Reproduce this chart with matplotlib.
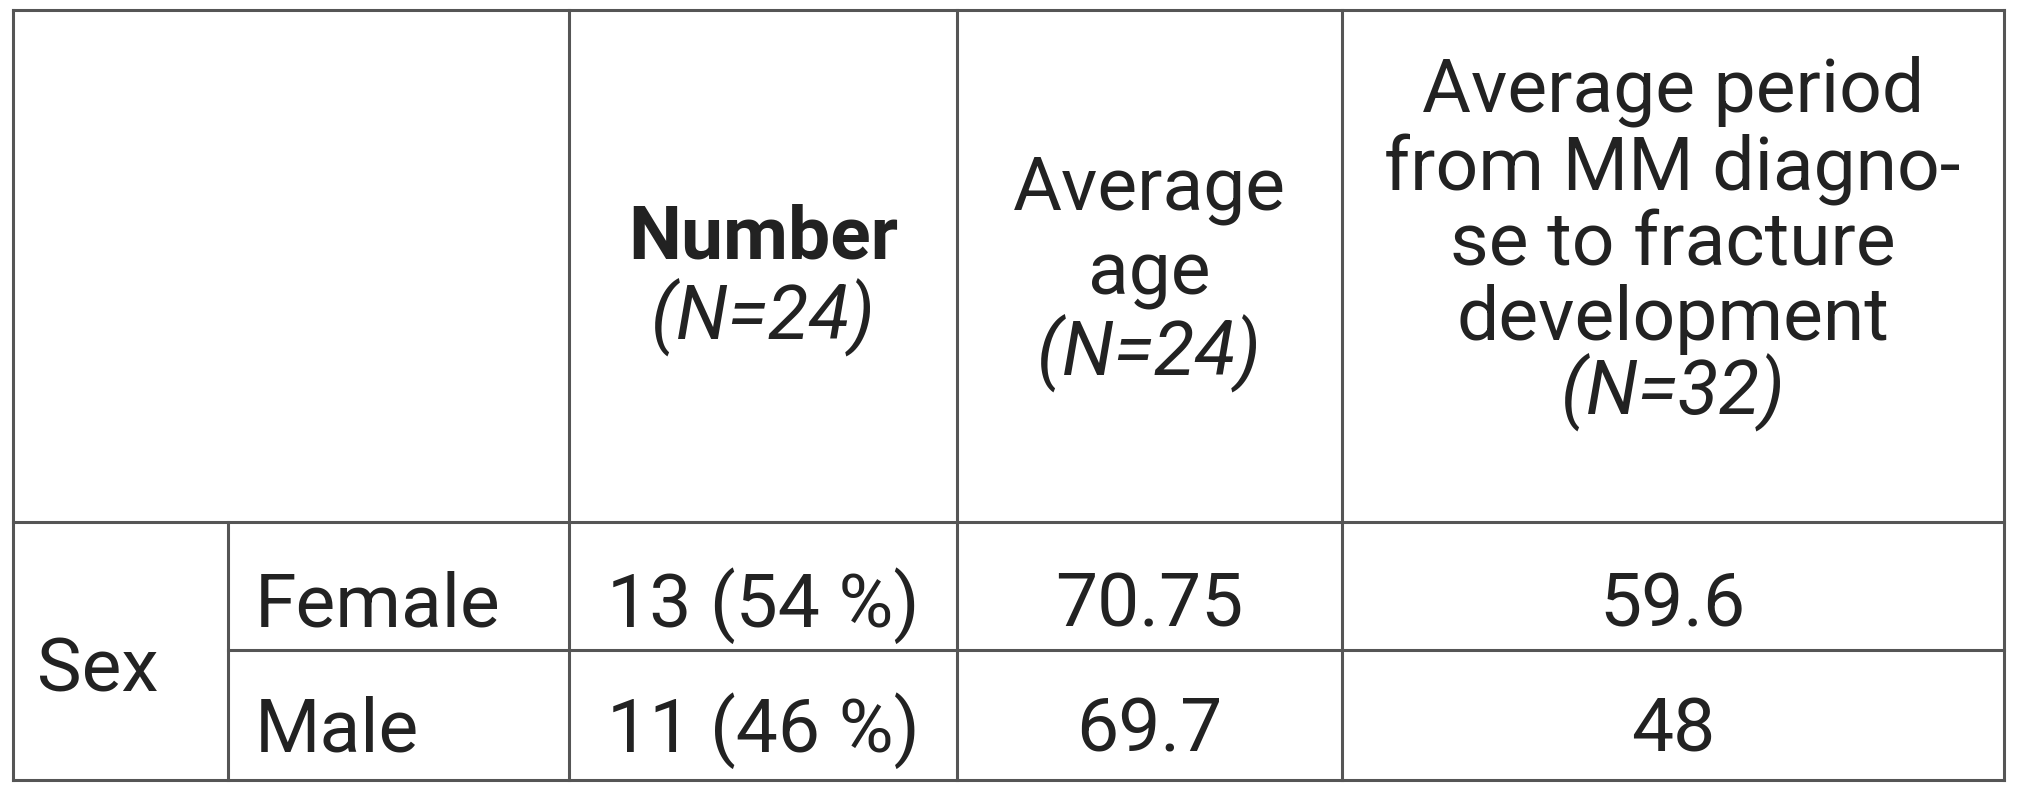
import matplotlib
matplotlib.use("Agg")
import matplotlib.pyplot as plt

header_bold = "Number"
header_n = ["(N=24)", "(N=24)", "(N=32)"]
header_age = ["Average", "age"]
header_period = ["Average period", "from MM diagno-", "se to fracture", "development"]
row_group = "Sex"
row_labels = ["Female", "Male"]
numbers = ["13 (54 %)", "11 (46 %)"]
avg_age = ["70.75", "69.7"]
avg_period = ["59.6", "48"]

W, H = 1546, 613
fig = plt.figure(figsize=(20.18, 8.0), dpi=100)
ax = fig.add_axes([0, 0, 1, 1])
ax.set_xlim(0, W); ax.set_ylim(H, 0); ax.axis("off")
plt.rcParams['font.family'] = ['Roboto', 'DejaVu Sans']
lc = "#555555"; tc = "#222222"; lw = 2.2; fs = 54

L, R, T, HB, RD, B = 10, 1535, 8, 400, 498, 598
cols = [175, 436, 733, 1028]
for y in [T, HB, RD, B]:
    x0 = L if y in (T, HB, B) else cols[0]
    ax.plot([x0, R], [y, y], color=lc, lw=lw)
ax.plot([L, L], [T, B], color=lc, lw=lw)
ax.plot([R, R], [T, B], color=lc, lw=lw)
ax.plot([cols[0], cols[0]], [HB, B], color=lc, lw=lw)
for c in cols[1:]:
    ax.plot([c, c], [T, B], color=lc, lw=lw)

def t(x, y, s, **kw):
    ax.text(x, y, s, ha="center", va="center", fontsize=fs, color=tc, **kw)

cx = (cols[1] + cols[2]) / 2
t(cx, 183, header_bold, weight="bold")
t(cx, 243, header_n[0], style="italic")
cx = (cols[2] + cols[3]) / 2
for s, y in zip(header_age, [145, 210]):
    t(cx, y, s)
t(cx, 270, header_n[1], style="italic")
cx = (cols[3] + R) / 2
for s, y in zip(header_period, [70, 130, 188, 245]):
    t(cx, y, s)
t(cx, 300, header_n[2], style="italic")

ax.text(28, (HB + B) / 2 + 15, row_group, ha="left", va="center", fontsize=fs, color=tc)
ys = [(HB + RD) / 2 + 15, (RD + B) / 2 + 12]
for i, y in enumerate(ys):
    ax.text(195, y, row_labels[i], ha="left", va="center", fontsize=fs, color=tc)
    t((cols[1] + cols[2]) / 2, y, numbers[i])
    t((cols[2] + cols[3]) / 2, y, avg_age[i])
    t((cols[3] + R) / 2, y, avg_period[i])

fig.savefig("out.png", dpi=100, facecolor="white")
